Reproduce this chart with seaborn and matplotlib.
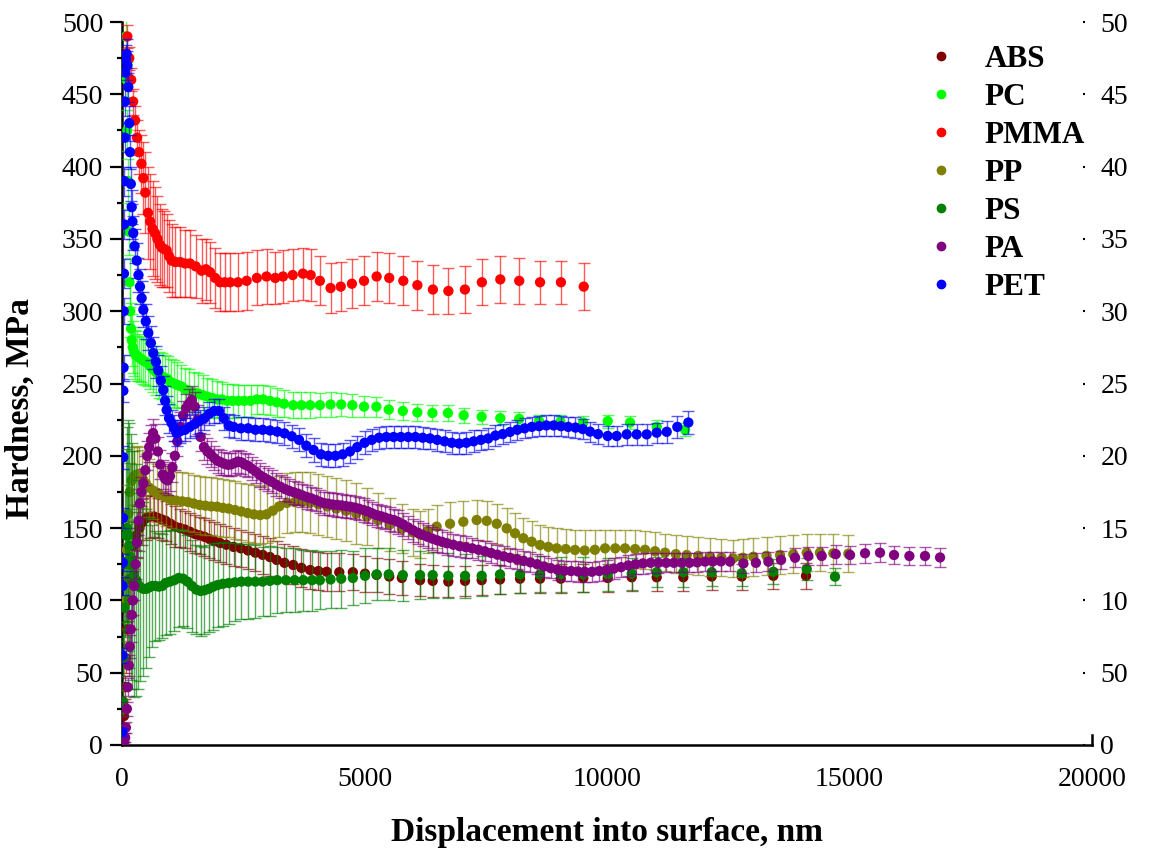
import matplotlib
matplotlib.use("Agg")
import matplotlib.pyplot as plt
import seaborn as sns
import pandas as pd
from matplotlib.lines import Line2D
from matplotlib.ticker import MultipleLocator

# ---------------- data ----------------
abs_x = [20, 40, 60, 80, 100, 130, 160, 200, 250, 300, 360, 420, 500, 580, 660,
         740, 820, 900, 1000, 1100, 1200, 1300, 1400, 1500, 1600, 1700, 1800, 1900, 2020, 2150,
         2300, 2450, 2600, 2750, 2900, 3050, 3190, 3350, 3530, 3700, 3880, 4050, 4220, 4480, 4760,
         5010, 5250, 5510, 5770, 6145, 6406, 6728, 7073, 7416, 7794, 8207, 8619, 9046, 9512, 10015,
         10510, 11025, 11574, 12159, 12778, 13430, 14104]
abs_y = [5, 20, 40, 60, 80, 100, 115, 128, 138, 145, 150, 154, 157, 158, 158,
         157, 156, 155, 153, 151, 150, 149, 147.5, 146, 145, 144, 142.5, 141, 139.7, 138.5,
         137, 136, 134.5, 133, 131.5, 130, 128, 126, 124.5, 122.5, 121, 120.3, 119.8, 119.5, 119.5,
         118.5, 117.6, 116.5, 115.5, 114, 113.5, 113, 113.5, 114, 114.5, 115, 115, 115, 115.5, 115.5,
         116, 116, 116, 116.5, 116.5, 117, 117]
abs_err = [2, 5, 8, 10, 12, 14, 15, 16, 16, 16, 16, 16, 15, 15, 14,
           14, 14, 14, 14, 14, 13, 13, 13, 13, 13, 13, 13, 13, 13, 13,
           13, 13, 13, 13, 13, 13, 13, 13, 13, 13, 13, 13, 13, 13, 12.5,
           12.5, 12, 12, 12, 11, 11, 10.5, 10.5, 10.5, 10, 10, 10, 10, 10, 10,
           9.5, 9.5, 9.5, 9, 9, 9, 9]

pc_x = [80, 95, 110, 125, 140, 155, 170, 185, 200, 220, 245, 275, 310, 350, 390,
        430, 480, 530, 580, 640, 700, 760, 820, 880, 940, 1000, 1070, 1140, 1220, 1300,
        1390, 1480, 1570, 1660, 1760, 1860, 1960, 2060, 2170, 2280, 2400, 2520, 2650, 2780, 2910,
        3050, 3190, 3340, 3530, 3700, 3880, 4080, 4300, 4520, 4750, 4990, 5245, 5500, 5790, 6090,
        6400, 6720, 7045, 7415, 7800, 8190, 8600, 9040, 9510, 10015, 10475, 11025, 11610]
pc_y = [490, 460, 425, 390, 355, 320, 300, 288, 280, 275, 272, 270, 269, 268, 267,
        266, 265, 264, 262, 260, 258, 256, 255, 254, 253, 251, 250, 249, 248, 246,
        245, 244, 243, 242, 241, 240, 239, 239, 238, 238, 238, 238, 238, 239, 239,
        238, 237, 236, 235, 235, 235, 235, 235.5, 235.5, 235, 234, 234, 232, 231, 230,
        229.6, 229.6, 228, 227, 226, 225.5, 224, 223.6, 223, 224, 223, 220, 218]
pc_err = [12, 12, 14, 15, 16, 17, 18, 18, 18, 18, 17, 17, 17, 16, 16,
          16, 16, 16, 16, 16, 16, 16, 16, 16, 16, 16, 16, 16, 15, 15,
          15, 14, 14, 14, 13, 13, 13, 12, 12, 12, 11, 11, 11, 10, 10,
          10, 10, 9.5, 9, 9, 9, 8.5, 8.5, 8, 8, 7.5, 7, 6.5, 6, 6,
          5.5, 5.5, 5, 5, 5, 4.5, 4.5, 4.5, 4.5, 4.5, 4.5, 4.5, 4.5]

pmma_x = [110, 150, 190, 230, 270, 310, 350, 400, 440, 480, 536, 580, 630, 680, 730,
          780, 818, 870, 921, 970, 1024, 1100, 1200, 1300, 1400, 1520, 1640, 1730, 1815, 1920,
          2020, 2120, 2230, 2390, 2570, 2780, 2980, 3160, 3320, 3520, 3730, 3890, 4080, 4300, 4510,
          4740, 4990, 5250, 5510, 5800, 6090, 6410, 6730, 7070, 7420, 7800, 8190, 8620, 9050, 9520]
pmma_y = [490, 475, 460, 445, 432, 420, 410, 402, 392, 382, 368, 362, 357, 354, 350,
          346, 344, 343, 342, 338, 335, 334, 334, 333, 333, 331, 328, 329, 327, 323,
          320, 320, 320, 320, 321, 323, 324, 323, 324, 325, 326, 325, 321, 316, 317,
          319, 321, 324, 323, 321, 318, 315, 314, 315, 320, 322, 321, 320, 320, 317]
pmma_err = [8, 8, 8, 9, 10, 12, 15, 20, 25, 28, 32, 33, 33, 32, 30,
            28, 27, 26, 25, 25, 25, 24, 24, 23, 23, 22, 22, 21, 21, 21,
            20, 20, 20, 20, 20, 19, 19, 18, 18, 18, 18, 18, 17, 17, 17,
            17, 17, 17, 17, 17, 17, 17, 16, 16, 16, 16, 16, 15, 15, 16]

pp_x = [15, 30, 50, 75, 100, 130, 160, 200, 250, 300, 360, 420, 490, 560, 640,
        720, 800, 900, 1000, 1120, 1240, 1360, 1480, 1600, 1720, 1840, 1960, 2080, 2200, 2330,
        2460, 2590, 2720, 2850, 2980, 3110, 3240, 3400, 3560, 3720, 3880, 4050, 4230, 4420, 4620,
        4830, 5050, 5280, 5520, 5770, 6000, 6145, 6300, 6488, 6763, 7038, 7313, 7520, 7726, 7932,
        8104, 8275, 8447, 8619, 8790, 8963, 9150, 9340, 9540, 9750, 9960, 10170, 10372, 10580, 10784,
        10990, 11197, 11420, 11644, 11880, 12124, 12360, 12600, 12800, 13018, 13290, 13568, 13840, 14118, 14390,
        14667, 14976]
pp_y = [10, 30, 60, 100, 135, 160, 175, 183, 186, 187, 186, 184, 181, 178, 176,
        174.5, 173, 171.5, 170, 169, 168.5, 168, 167, 166, 165.5, 165, 164.8, 164, 163.5, 162.5,
        161.5, 160.4, 159.5, 159, 159.5, 162, 165, 167.4, 168, 168, 167.5, 166.5, 165, 163.5, 162,
        160, 158, 155.5, 152.5, 149.5, 147, 145.5, 148, 151, 153, 154.4, 155.6, 155, 153, 149.8,
        146.4, 143, 140.6, 138.3, 137, 136, 135.5, 134.9, 134.5, 135, 136, 136, 136, 135.5, 135,
        134, 133, 132, 131.4, 130.8, 130.2, 129.6, 129.1, 129.5, 130.2, 130.8, 131.4, 132, 133, 133,
        132.6, 132.3]
pp_err = [3, 8, 12, 15, 18, 20, 20, 20, 20, 20, 20, 20, 20, 20, 20,
          20, 20, 20, 20, 20, 20, 20, 20, 20, 20, 20, 20, 20, 20, 20,
          20, 20, 20, 20, 20, 21, 21, 21, 21, 21, 21, 21, 21, 21, 21,
          21, 20, 19, 18, 17, 16, 16, 15, 15, 15, 14, 14, 14, 14, 14,
          14, 14, 14, 14, 14, 14, 14, 14, 14, 14, 13, 13, 13, 13, 13,
          13, 13, 13, 13, 13, 13, 13, 13, 13, 13, 13, 13, 13, 13, 13,
          13, 13]

ps_x = [10, 20, 30, 45, 60, 80, 100, 125, 150, 180, 210, 250, 290, 330, 380,
        440, 500, 560, 620, 690, 760, 830, 900, 990, 1080, 1170, 1260, 1350, 1440, 1530,
        1620, 1700, 1790, 1880, 1970, 2080, 2200, 2330, 2460, 2600, 2750, 2900, 3050, 3200, 3380,
        3560, 3740, 3920, 4080, 4300, 4520, 4760, 5010, 5250, 5500, 5790, 6145, 6406, 6728, 7073,
        7416, 7794, 8207, 8619, 9046, 9512, 10015, 10510, 11025, 11574, 12159, 12778, 13430, 14118, 14701]
ps_y = [5, 30, 60, 95, 125, 145, 150, 145, 138, 130, 124, 118, 114, 111, 109,
        108, 108, 109, 110, 110, 109.5, 110, 112, 113, 114, 115.5, 115, 113, 110, 107.5,
        106.5, 107, 108, 109.5, 110.6, 111.5, 112, 112.5, 113, 113, 113, 113, 113.5, 114, 114,
        114, 114, 114, 114, 114.5, 115, 115.5, 117, 118, 118, 117.5, 117.5, 117.5, 117, 117,
        117, 118, 118, 118, 118, 118, 118, 118.5, 119.5, 119.5, 119.5, 118.8, 119.8, 121.7, 116.4]
ps_err = [3, 10, 20, 35, 50, 60, 70, 80, 85, 85, 85, 85, 80, 72, 65,
          60, 55, 48, 42, 38, 37, 36, 36, 36, 35, 34, 33, 32, 32, 31,
          31, 30, 30, 30, 29, 29, 28, 27, 26, 26, 25, 24, 24, 23, 22,
          22, 21, 21, 20, 20, 20, 19, 19, 18, 18, 17.6, 16.5, 16, 15.5, 15,
          14, 13.5, 13, 12.5, 12, 12, 11.5, 11, 10.5, 10, 9.5, 9, 8.5, 7.7, 6]

pa_x = [50, 65, 80, 100, 120, 140, 160, 180, 200, 225, 250, 280, 310, 340, 370,
        400, 440, 480, 520, 560, 600, 640, 690, 740, 790, 840, 890, 940, 990, 1040,
        1090, 1140, 1200, 1260, 1320, 1380, 1440, 1500, 1560, 1620, 1690, 1760, 1830, 1900, 1970,
        2040, 2110, 2180, 2250, 2320, 2390, 2460, 2530, 2600, 2680, 2760, 2840, 2920, 3000, 3090,
        3180, 3270, 3360, 3450, 3540, 3630, 3720, 3810, 3900, 3990, 4080, 4170, 4260, 4350, 4440,
        4530, 4620, 4710, 4800, 4890, 4980, 5070, 5160, 5250, 5340, 5430, 5520, 5610, 5700, 5800,
        5900, 6000, 6100, 6200, 6300, 6400, 6500, 6600, 6700, 6830, 6960, 7090, 7220, 7350, 7480,
        7610, 7740, 7870, 8000, 8140, 8280, 8420, 8560, 8700, 8840, 8980, 9120, 9260, 9400, 9540,
        9690, 9840, 9990, 10140, 10290, 10440, 10590, 10740, 10900, 11060, 11220, 11380, 11540, 11700, 11860,
        12020, 12180, 12350, 12536, 12811, 13070, 13327, 13589, 13878, 14152, 14427, 14716, 15011, 15320, 15629,
        15918, 16235, 16557, 16867]
pa_y = [0, 5, 12, 25, 40, 55, 68, 80, 90, 100, 110, 125, 140, 155, 167,
        175, 181, 190, 200, 206, 211, 215.7, 212, 203, 194, 187, 184, 183, 186, 192,
        200, 210, 220, 228, 233, 236, 238.6, 234, 225, 213, 206, 203, 201, 198.5, 196.5,
        195.5, 194.5, 193.8, 194, 195, 196, 195.5, 194, 193, 191, 189, 186.7, 185, 183.5, 182,
        180, 178.5, 177, 175.8, 174.8, 173.8, 172.6, 171.5, 170.6, 169.5, 168.2, 167.3, 166.8, 166.3, 166,
        165.7, 165.2, 164.8, 164.2, 163.4, 162.5, 161.5, 160.2, 159, 158.2, 157.2, 156.3, 155.5, 154.2, 152.5,
        150.5, 148.5, 146.8, 145.3, 144, 142.7, 141.5, 140.5, 139.5, 138.5, 137.5, 136.8, 136, 135, 134,
        132.8, 131.6, 130.5, 129.5, 128.5, 127.3, 126.3, 125, 123.5, 122.3, 121.2, 120.5, 120.3, 120, 119.8,
        119.8, 120.3, 121, 122, 123, 124.2, 125, 125.6, 126, 126, 126, 126, 126, 126, 126.3,
        126.8, 127, 127, 126.8, 125.5, 126, 126.8, 128, 129.5, 130.7, 130.7, 132, 131.4, 132.6, 133,
        131.4, 130.7, 130.7, 129.7]
pa_err = [2, 3, 4, 5, 6, 7, 8, 9, 10, 10, 10, 10, 10, 10, 10,
          10, 10, 10, 10, 10, 10, 10, 10, 10, 10, 10, 10, 10, 10, 10,
          10, 10, 10, 10, 10, 10, 10, 10, 10, 10, 9, 9, 9, 8.5, 8.5,
          8.5, 8, 8, 8, 8, 8, 8, 8, 8, 8, 8, 8, 8, 8, 8,
          8, 8, 8, 8, 8, 8, 8, 8, 8, 8, 8, 8, 8, 8, 8,
          8, 8, 8, 8, 8, 8, 8, 8, 8, 8, 8, 8, 8, 8, 8,
          8, 8, 8, 8, 8, 8, 8, 8, 8, 7.5, 7.5, 7.5, 7, 7, 7,
          7, 7, 7, 7, 7, 7, 7, 7, 7, 7, 7, 7, 7, 7, 7,
          7, 7, 7, 7, 7, 7, 7, 7, 7, 7, 6.5, 6.5, 6.5, 6.5, 6.5,
          6.5, 6.5, 6.5, 6.5, 6.5, 6.5, 6.5, 6.5, 6.5, 6.5, 6.5, 6.5, 6.5, 6.5, 6.5,
          6.5, 6.5, 6.5, 6.5]

pet_x = [5, 9, 13, 16, 20, 24, 28, 32, 36, 40, 45, 50, 55, 60, 70,
         80, 96, 113, 130, 151, 165, 182, 200, 215, 233, 260, 303, 340, 371, 405,
         440, 490, 543, 595, 646, 700, 749, 800, 852, 890, 921, 970, 1024, 1075, 1127,
         1200, 1300, 1400, 1500, 1600, 1700, 1800, 1900, 2000, 2100, 2200, 2300, 2450, 2600, 2750,
         2900, 3050, 3200, 3350, 3500, 3650, 3800, 3950, 4100, 4250, 4400, 4550, 4700, 4850, 5000,
         5150, 5300, 5450, 5600, 5750, 5900, 6050, 6200, 6350, 6500, 6650, 6800, 6950, 7100, 7250,
         7400, 7550, 7700, 7850, 8000, 8150, 8300, 8450, 8600, 8750, 8900, 9050, 9200, 9350, 9500,
         9650, 9815, 10015, 10200, 10406, 10612, 10818, 11025, 11231, 11450, 11677]
pet_y = [9, 62, 110, 126, 157, 199, 245, 261, 300, 326, 360, 390, 420, 445, 465,
         474, 478, 470, 455, 430, 410, 388, 372, 362, 354, 345, 335, 325, 317, 309,
         301, 293, 285, 278, 271, 265, 259, 252, 245.5, 238, 231.7, 226, 222.6, 219, 215.7,
         217, 218, 220, 222, 224, 226, 229, 231, 231, 226, 221, 220, 219, 219, 218,
         218, 217.5, 216.7, 215.5, 213.5, 211, 207, 204, 201, 200, 200, 201, 203, 206, 209,
         211, 212.5, 213, 213, 213, 213, 213, 212.5, 212, 211, 210, 209, 208.5, 209, 210,
         211, 212, 214, 215, 216.5, 218, 219, 220, 220.5, 221, 221, 220.5, 220, 219.5, 218.5,
         216.7, 215, 213.7, 213.7, 214.8, 214.8, 214.8, 216, 216.6, 220, 223]
pet_err = [3, 5, 6, 6, 7, 8, 8, 9, 9, 10, 10, 10, 10, 10, 10,
           10, 10, 10, 10, 12, 12, 12, 12, 12, 12, 12, 12, 12, 12, 12,
           12, 12, 12, 12, 11, 11, 11, 10, 10, 10, 10, 10, 9, 9, 9,
           8, 8, 8, 8, 8, 8, 8, 8, 8, 8, 8, 8, 8, 8, 8,
           8, 8, 8, 8, 8, 8, 8, 8, 8, 8, 8, 8, 8, 8, 8,
           7.5, 7.5, 7.5, 7.5, 7.5, 7.5, 7.5, 7.5, 7.5, 7.5, 7.5, 7.5, 7.5, 7.5, 7.5,
           7, 7, 7, 7, 7, 7, 7, 7, 7, 7, 7, 7, 7, 7, 7,
           7, 7, 7, 7, 7, 7, 7, 7, 7.5, 7.7, 7.7]

names = ["ABS", "PC", "PMMA", "PP", "PS", "PA", "PET"]
colors = ["#800000", "#00FF00", "#FF0000", "#808000", "#008000", "#800080", "#0000FF"]
right_tick_labels = ["0", "50", "10", "15", "20", "25", "30", "35", "40", "45", "50"]

xs_all = [abs_x, pc_x, pmma_x, pp_x, ps_x, pa_x, pet_x]
ys_all = [abs_y, pc_y, pmma_y, pp_y, ps_y, pa_y, pet_y]
es_all = [abs_err, pc_err, pmma_err, pp_err, ps_err, pa_err, pet_err]

frames = []
for n, xs, ys, es in zip(names, xs_all, ys_all, es_all):
    frames.append(pd.DataFrame({"material": n, "x": xs, "y": ys, "err": es}))
data = pd.concat(frames, ignore_index=True)

# ---------------- figure ----------------
sns.set_theme(style="white")
plt.rcParams["font.family"] = ["Liberation Serif", "DejaVu Serif"]
for k in ["text.color", "axes.labelcolor", "xtick.color", "ytick.color", "axes.edgecolor"]:
    plt.rcParams[k] = "black"

fig = plt.figure(figsize=(11.5, 8.59), dpi=100)
ax = fig.add_axes([122 / 1150, 114 / 859, 970 / 1150, 723 / 859])

for i, (n, c) in enumerate(zip(names, colors)):
    d = data[data["material"] == n]
    ax.errorbar(d["x"], d["y"], yerr=d["err"], fmt="none", ecolor=c,
                elinewidth=1.0, capsize=4.5, capthick=1.0, alpha=0.65,
                zorder=2 + 2 * i)
    sns.scatterplot(data=d, x="x", y="y", color=c, s=55, linewidth=0,
                    edgecolor="none", ax=ax, legend=False, zorder=3 + 2 * i)

ax.set_xlim(0, 20000)
ax.set_ylim(0, 500)
ax.xaxis.set_major_locator(MultipleLocator(5000))
ax.xaxis.set_minor_locator(MultipleLocator(2500))
ax.yaxis.set_major_locator(MultipleLocator(50))
ax.yaxis.set_minor_locator(MultipleLocator(25))

ax.spines["top"].set_visible(False)
for s in ["left", "bottom", "right"]:
    ax.spines[s].set_linewidth(1.8)
    ax.spines[s].set_color("black")
ax.spines["right"].set_bounds(0, 7)

ax.tick_params(axis="both", which="major", direction="out", length=8.5,
               width=1.6, labelsize=20, colors="black", pad=5)
ax.tick_params(axis="both", which="minor", direction="out", length=3.5,
               width=1.6, colors="black")
ax.tick_params(axis="x", which="major", pad=7)
ax.tick_params(axis="y", which="both", right=False)

ax.set_xlabel("Displacement into surface, nm", fontsize=24, fontweight="bold")
ax.set_ylabel("Hardness, MPa", fontsize=24, fontweight="bold")
ax.xaxis.set_label_coords(0.5, -0.099)
ax.yaxis.set_label_coords(-0.089, 0.465)

ax2 = ax.twinx()
ax2.set_ylim(0, 50)
ax2.set_yticks(list(range(0, 55, 5)))
ax2.set_yticklabels(right_tick_labels)
for s in ax2.spines.values():
    s.set_visible(False)
ax2.spines["right"].set_position(("axes", (1083 - 122) / 970))
ax2.tick_params(axis="y", direction="out", length=1.5, width=1.5, labelsize=20,
                pad=11, colors="black")
ax2.grid(False)
ax.grid(False)

handles = [Line2D([], [], marker="o", ls="", color=c, markersize=6) for c in colors]
leg = ax.legend(handles, names, loc="upper left",
                bbox_to_anchor=(925 / 1150, 1 - 45 / 859), bbox_transform=fig.transFigure,
                frameon=False, prop={"family": "Liberation Serif", "weight": "bold", "size": 22.5},
                handlelength=1.0, handletextpad=0.9, labelspacing=0.29,
                borderpad=0, borderaxespad=0)
leg.set_zorder(50)

fig.savefig("out.png", dpi=100)
